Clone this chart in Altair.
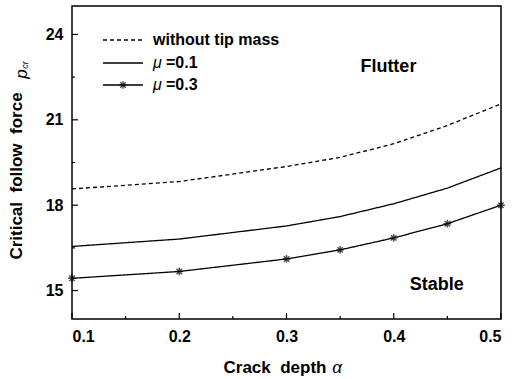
import altair as alt
import pandas as pd

alpha = [0.1, 0.2, 0.3, 0.35, 0.4, 0.45, 0.5]
no_tip = [18.57, 18.83, 19.36, 19.68, 20.16, 20.80, 21.56]
mu01 = [16.55, 16.81, 17.27, 17.60, 18.05, 18.60, 19.31]
mu03 = [15.43, 15.67, 16.11, 16.43, 16.85, 17.35, 18.00]
series_names = ["without tip mass", "mu=0.1", "mu=0.3"]
legend_prefix = ["", "\u03bc", "\u03bc"]
legend_text = ["without tip mass", "=0.1", "=0.3"]

x_major = [0.1, 0.2, 0.3, 0.4, 0.5]
x_minor = [0.15, 0.25, 0.35, 0.45]
y_major = [15, 18, 21, 24]
y_minor = [16.5, 19.5, 22.5]

FONT = "Liberation Sans"
NB = "\u00a0"
W, H = 429, 313

rows = []
for name, vals in zip(series_names, [no_tip, mu01, mu03]):
    for a, v in zip(alpha, vals):
        rows.append({"alpha": a, "p": v, "series": name})
df = pd.DataFrame(rows)

xs = alt.Scale(domain=[0.1, 0.5], nice=False)
ys = alt.Scale(domain=[14, 25], nice=False)

xenc = alt.X("alpha:Q", scale=xs,
             axis=alt.Axis(values=x_major, format=".1f", tickSize=0, domain=False, grid=False,
                           labelFont=FONT, labelFontSize=16, labelFontWeight="bold", labelColor="black",
                           labelPadding=9, title=None))
yenc = alt.Y("p:Q", scale=ys,
             axis=alt.Axis(values=y_major, tickSize=0, domain=False, grid=False,
                           labelFont=FONT, labelFontSize=16, labelFontWeight="bold", labelColor="black",
                           labelPadding=9, title=None))

lines = alt.Chart(df).mark_line(color="black", strokeWidth=1.3).encode(
    x=xenc, y=yenc,
    detail="series:N",
    strokeDash=alt.StrokeDash("series:N", scale=alt.Scale(domain=series_names,
                              range=[[4, 3], [1, 0], [1, 0]]), legend=None),
)

asterisk = "M-1,0L1,0M0,-1L0,1M-0.7,-0.7L0.7,0.7M-0.7,0.7L0.7,-0.7"
pts = alt.Chart(df[df.series == series_names[2]]).mark_point(
    shape=asterisk, size=60, filled=False, color="black", strokeWidth=1.4
).encode(x=alt.X("alpha:Q", scale=xs), y=alt.Y("p:Q", scale=ys))

# inward ticks
xt_major = alt.Chart(pd.DataFrame({"v": x_major})).mark_rule(color="black", strokeWidth=1.2).encode(
    x=alt.X("v:Q", scale=xs), y=alt.value(H), y2=alt.value(H - 6))
xt_minor = alt.Chart(pd.DataFrame({"v": x_minor})).mark_rule(color="black", strokeWidth=1.2).encode(
    x=alt.X("v:Q", scale=xs), y=alt.value(H), y2=alt.value(H - 3))
yt_major = alt.Chart(pd.DataFrame({"v": y_major})).mark_rule(color="black", strokeWidth=1.2).encode(
    y=alt.Y("v:Q", scale=ys), x=alt.value(0), x2=alt.value(6))
yt_minor = alt.Chart(pd.DataFrame({"v": y_minor})).mark_rule(color="black", strokeWidth=1.2).encode(
    y=alt.Y("v:Q", scale=ys), x=alt.value(0), x2=alt.value(3))

# annotations
ann = pd.DataFrame({"alpha": [0.395, 0.44], "p": [22.85, 15.2], "t": ["Flutter", "Stable"]})
ann_txt = alt.Chart(ann).mark_text(font=FONT, fontSize=18, fontWeight="bold", color="black").encode(
    x=alt.X("alpha:Q", scale=xs), y=alt.Y("p:Q", scale=ys), text="t:N")

# axis titles as text
def txt(s, x, y, size=17, angle=0, style="normal", weight="bold", align="center", baseline="alphabetic"):
    return alt.Chart(pd.DataFrame({"t": [s]})).mark_text(
        font=FONT, fontSize=size, fontWeight=weight, fontStyle=style, angle=angle,
        align=align, baseline=baseline, color="black").encode(
        x=alt.value(x), y=alt.value(y), text="t:N")

titles = [
    txt("Crack" + NB + NB + "depth", 203, 367),
    txt("\u03b1", 265, 367, style="italic", weight="normal"),
    txt("Critical" + NB + NB + "follow" + NB + NB + "force", -50, 170, angle=270),
    txt("p", -45, 68, style="italic", weight="normal", angle=270),
    txt("cr", -44, 59, size=9, style="italic", weight="normal", angle=270),
]

# manual legend
leg_y = [34, 57, 79]
leg_layers = []
for i, name in enumerate(series_names):
    dash = [4, 3] if i == 0 else [1, 0]
    leg_layers.append(alt.Chart(pd.DataFrame({"series": [name]})).mark_rule(
        color="black", strokeWidth=1.3, strokeDash=dash).encode(
        x=alt.value(31), x2=alt.value(71), y=alt.value(leg_y[i])))
    if legend_prefix[i]:
        leg_layers.append(txt(legend_prefix[i], 81, leg_y[i], size=16, style="italic", weight="normal",
                              align="left", baseline="middle"))
        leg_layers.append(txt(legend_text[i], 94, leg_y[i], size=16, align="left", baseline="middle"))
    else:
        leg_layers.append(txt(legend_text[i], 81, leg_y[i], size=16, align="left", baseline="middle"))
leg_pt = alt.Chart(pd.DataFrame({"series": [series_names[2]]})).mark_point(
    shape=asterisk, size=60, filled=False, color="black", strokeWidth=1.4
).encode(x=alt.value(51), y=alt.value(leg_y[2]))

chart = alt.layer(lines, pts, xt_major, xt_minor, yt_major, yt_minor, ann_txt, *titles,
                  *leg_layers, leg_pt).properties(
    width=W, height=H,
    autosize=alt.AutoSizeParams(type="none"),
    padding={"left": 72, "top": 6, "right": 13, "bottom": 60},
    background="white",
).configure_view(stroke="black", strokeWidth=1.5)

chart.save("out.html", embed_options={"renderer": "svg", "actions": False})
